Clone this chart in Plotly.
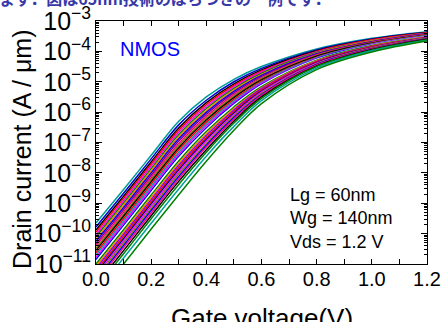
import plotly.graph_objects as go

# Gate voltage grid (V)
vg = [0.0, 0.1, 0.2, 0.3, 0.4, 0.5, 0.6, 0.8, 1.0, 1.2]

# log10 of drain current (A/um) for each Monte-Carlo curve
log_id = [
    [-9.65, -8.55, -7.42, -6.30, -5.50, -4.92, -4.50, -3.92, -3.57, -3.35],
    [-9.78, -8.67, -7.54, -6.42, -5.61, -5.00, -4.56, -3.95, -3.59, -3.37],
    [-9.88, -8.77, -7.64, -6.52, -5.69, -5.07, -4.61, -3.98, -3.61, -3.38],
    [-9.95, -8.84, -7.71, -6.59, -5.75, -5.12, -4.65, -4.00, -3.62, -3.39],
    [-10.03, -8.92, -7.78, -6.66, -5.82, -5.17, -4.68, -4.02, -3.64, -3.40],
    [-10.10, -8.99, -7.86, -6.74, -5.88, -5.22, -4.72, -4.04, -3.65, -3.41],
    [-10.18, -9.06, -7.93, -6.81, -5.95, -5.27, -4.76, -4.06, -3.66, -3.42],
    [-10.25, -9.14, -8.00, -6.88, -6.01, -5.32, -4.79, -4.08, -3.68, -3.42],
    [-10.33, -9.21, -8.08, -6.95, -6.07, -5.37, -4.83, -4.10, -3.69, -3.43],
    [-10.40, -9.29, -8.15, -7.03, -6.14, -5.42, -4.87, -4.12, -3.71, -3.44],
    [-10.48, -9.36, -8.22, -7.10, -6.20, -5.47, -4.90, -4.14, -3.72, -3.45],
    [-10.55, -9.43, -8.29, -7.17, -6.26, -5.52, -4.94, -4.16, -3.73, -3.46],
    [-10.63, -9.51, -8.37, -7.24, -6.33, -5.58, -4.98, -4.19, -3.75, -3.47],
    [-10.70, -9.58, -8.44, -7.32, -6.39, -5.63, -5.01, -4.21, -3.76, -3.48],
    [-10.78, -9.65, -8.51, -7.39, -6.45, -5.68, -5.05, -4.23, -3.77, -3.49],
    [-10.85, -9.73, -8.59, -7.46, -6.52, -5.73, -5.09, -4.25, -3.79, -3.50],
    [-10.93, -9.80, -8.66, -7.53, -6.58, -5.78, -5.12, -4.27, -3.80, -3.51],
    [-11.00, -9.87, -8.73, -7.61, -6.64, -5.83, -5.16, -4.29, -3.81, -3.52],
    [-11.08, -9.95, -8.81, -7.68, -6.71, -5.88, -5.20, -4.31, -3.83, -3.53],
    [-11.15, -10.02, -8.88, -7.75, -6.77, -5.93, -5.23, -4.33, -3.84, -3.54],
    [-11.23, -10.09, -8.95, -7.82, -6.84, -5.98, -5.27, -4.35, -3.85, -3.55],
    [-11.30, -10.17, -9.02, -7.90, -6.90, -6.03, -5.31, -4.37, -3.87, -3.55],
    [-11.38, -10.24, -9.10, -7.97, -6.96, -6.08, -5.34, -4.39, -3.88, -3.56],
    [-11.45, -10.31, -9.17, -8.04, -7.03, -6.13, -5.38, -4.41, -3.89, -3.57],
    [-11.53, -10.39, -9.24, -8.12, -7.09, -6.18, -5.42, -4.43, -3.91, -3.58],
    [-11.60, -10.46, -9.32, -8.19, -7.15, -6.23, -5.45, -4.45, -3.92, -3.59],
    [-11.70, -10.56, -9.41, -8.28, -7.24, -6.30, -5.50, -4.48, -3.94, -3.60],
    [-11.80, -10.66, -9.51, -8.38, -7.32, -6.36, -5.55, -4.50, -3.96, -3.62],
    [-11.95, -10.80, -9.66, -8.53, -7.45, -6.47, -5.62, -4.55, -3.98, -3.64],
    [-12.15, -11.00, -9.85, -8.72, -7.62, -6.60, -5.72, -4.60, -4.02, -3.66],
]

x_tickvals = [0.0, 0.2, 0.4, 0.6, 0.8, 1.0, 1.2]
x_ticktext = ["0.0", "0.2", "0.4", "0.6", "0.8", "1.0", "1.2"]

curve_colors = [
    "#009999", "#0000CC", "#000000", "#FF0000", "#FF00FF", "#008000",
    "#FF8000", "#0000FF", "#800080", "#FF0080", "#808000", "#000000",
    "#FF0000", "#00A0A0", "#FF00FF", "#0000FF", "#FFFFFF", "#008000",
    "#FF8000", "#8000FF", "#FF0000", "#000080", "#FF00FF", "#808000",
    "#0000FF", "#FF0080", "#000000", "#008000", "#00A0A0", "#008000",
]

fig = go.Figure()
for i, curve in enumerate(log_id):
    fig.add_trace(go.Scatter(
        x=vg, y=[10 ** v for v in curve], mode="lines",
        line=dict(color=curve_colors[i % len(curve_colors)], width=1.5, shape="spline", smoothing=1.0),
        showlegend=False, hoverinfo="skip",
    ))

num_font = dict(family="Liberation Sans, Arial, sans-serif", size=20, color="black")

fig.update_layout(
    width=441, height=322,
    margin=dict(l=96, r=14, t=21, b=58),
    paper_bgcolor="white", plot_bgcolor="white",
    showlegend=False,
    xaxis=dict(
        range=[0, 1.2], tickmode="array", tickvals=x_tickvals, ticktext=x_ticktext,
        ticks="inside", ticklen=5, tickcolor="black", tickwidth=1,
        minor=dict(ticks="inside", ticklen=5, dtick=0.1, tickcolor="black", showgrid=False),
        showline=True, linecolor="black", linewidth=1, mirror="ticks",
        showgrid=False, zeroline=False, tickfont=num_font, automargin=False,
        ticklabelstandoff=-3, ticklabeloverflow="allow",
    ),
    yaxis=dict(
        type="log", range=[-11, -3], dtick=1, exponentformat="power",
        ticks="inside", ticklen=6, tickcolor="black", tickwidth=1,
        minor=dict(ticks="inside", ticklen=3, dtick="D1", tickcolor="black", showgrid=False),
        showline=True, linecolor="black", linewidth=1, mirror="ticks",
        showgrid=False, zeroline=False, tickfont=num_font, automargin=False,
    ),
    annotations=[
        dict(text="ます．図は65nm技術のばらつきの一例です．", xref="paper", yref="paper",
             x=0, y=1, xshift=-99, yshift=23, xanchor="left", yanchor="middle",
             showarrow=False,
             font=dict(family="Noto Sans CJK JP", size=16, color="#3838A8", weight="bold")),
        dict(text="NMOS", xref="paper", yref="paper", x=(118 - 96) / 331, y=0.883,
             xanchor="left", yanchor="middle", showarrow=False,
             font=dict(family="Liberation Sans, Arial", size=20, color="#0000FF")),
        dict(text="Lg = 60nm<br>Wg = 140nm<br>Vds = 1.2 V", xref="paper", yref="paper",
             x=(288 - 96) / 331, y=0.187, xanchor="left", yanchor="middle", align="left",
             showarrow=False,
             font=dict(family="Liberation Sans, Arial", size=18, color="black")),
        dict(text="Drain current (A / μm)", xref="paper", yref="paper",
             x=(22 - 96) / 331, y=(264 - 150) / 243, textangle=-90,
             xanchor="center", yanchor="middle", showarrow=False,
             font=dict(family="Liberation Sans, Arial", size=25, color="black")),
        dict(text="Gate voltage(V)", xref="paper", yref="paper",
             x=0.5, y=-(318 - 264) / 243, xanchor="center", yanchor="middle",
             showarrow=False,
             font=dict(family="Liberation Sans, Arial", size=26, color="black")),
    ],
)

fig.write_html("out.html", config={"displayModeBar": False},
               post_script="document.body.style.margin='0px';")
